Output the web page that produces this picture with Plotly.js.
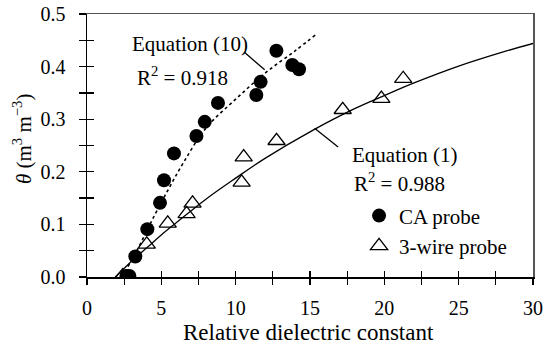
<!DOCTYPE html>
<html>
<head>
<meta charset="utf-8">
<script src="https://cdn.plot.ly/plotly-3.0.1.min.js"></script>
<style>html,body{margin:0;padding:0;background:#fff;}#chart{width:553px;height:344px;}</style>
</head>
<body>
<div id="chart"></div>
<script>
// CA probe measurements (filled circles)
const caX = [2.65, 2.85, 3.25, 4.06, 4.91, 5.18, 5.85, 7.36, 7.92, 8.81, 11.39, 11.68, 12.74, 13.81, 14.26];
const caY = [0.002, 0.002, 0.039, 0.091, 0.141, 0.184, 0.235, 0.268, 0.295, 0.331, 0.346, 0.371, 0.430, 0.403, 0.395];
// 3-wire probe measurements (open triangles)
const wX = [2.4, 4.02, 5.43, 6.7, 7.1, 10.4, 10.54, 12.75, 17.2, 19.8, 21.27];
const wY = [0.002, 0.062, 0.102, 0.12, 0.14, 0.18, 0.228, 0.259, 0.318, 0.339, 0.377];
// Equation (1) curve
const eq1X = [1.9, 3, 4, 5, 6, 8, 10, 12, 15, 18, 20, 22, 25, 28, 30];
const eq1Y = [0.0, 0.030, 0.055, 0.080, 0.103, 0.148, 0.188, 0.226, 0.276, 0.320, 0.345, 0.369, 0.401, 0.428, 0.444];
// Equation (10) curve
const eq10X = [2.35, 3.5, 4.5, 5.5, 6.5, 8, 10, 12, 14, 15.5];
const eq10Y = [0.0, 0.058, 0.115, 0.168, 0.218, 0.283, 0.338, 0.388, 0.43, 0.463];
// Tick labels
const xTickVals = [0, 2.5, 5, 7.5, 10, 12.5, 15, 17.5, 20, 22.5, 25, 27.5, 30];
const xTickText = ['0', '', '5', '', '10', '', '15', '', '20', '', '25', '', '30'];
const yTickVals = [0, 0.05, 0.1, 0.15, 0.2, 0.25, 0.3, 0.35, 0.4, 0.45, 0.5];
const yTickText = ['0.0', '', '0.1', '', '0.2', '', '0.3', '', '0.4', '', '0.5'];

const FONT = 'Liberation Serif';
const txt = {family: FONT, size: 21, color: '#000'};
const traces = [
  {x: eq1X, y: eq1Y, mode: 'lines', line: {color: '#000', width: 1.3, shape: 'spline'}, showlegend: false, hoverinfo: 'skip'},
  {x: eq10X, y: eq10Y, mode: 'lines', line: {color: '#000', width: 1.6, dash: '3px,3px', shape: 'spline'}, showlegend: false, hoverinfo: 'skip'},
  {x: caX, y: caY, mode: 'markers', name: 'CA probe', marker: {symbol: 'circle', size: 14, color: '#000'}},
  {x: wX, y: wY, mode: 'markers', name: '3-wire probe', marker: {symbol: 'triangle-up-open', size: 15, color: '#000', line: {width: 1.3, color: '#000'}}},
  {x: [], y: [], xaxis: 'x2', yaxis: 'y2', showlegend: false},
  {x: [], y: [], xaxis: 'x3', yaxis: 'y3', showlegend: false}
];

const common = {zeroline: false, showgrid: false};
const layout = {
  width: 553, height: 344,
  margin: {l: 87, r: 20, t: 14, b: 67},
  paper_bgcolor: '#fff', plot_bgcolor: '#fff',
  font: {family: FONT, size: 20, color: '#000'},
  xaxis: Object.assign({}, common, {range: [0, 30], tickmode: 'array', tickvals: xTickVals, ticktext: xTickText,
    ticks: 'outside', ticklen: 6, tickwidth: 1.3, tickcolor: '#000', showline: true, linecolor: '#000', linewidth: 1.5,
    ticklabelstandoff: 6, tickfont: {family: FONT, size: 20, color: '#000'}}),
  yaxis: Object.assign({}, common, {range: [0, 0.5], tickmode: 'array', tickvals: yTickVals, ticktext: yTickText,
    ticks: 'outside', ticklen: 7, tickwidth: 1.3, tickcolor: '#000', showline: true, linecolor: '#000', linewidth: 1.5,
    ticklabelstandoff: 9, tickfont: {family: FONT, size: 20, color: '#000'}}),
  xaxis2: Object.assign({}, common, {range: [0, 30], overlaying: 'x', anchor: 'y2', side: 'bottom', tickmode: 'array', tickvals: xTickVals,
    showticklabels: false, ticks: 'inside', ticklen: 6, tickwidth: 1.3, tickcolor: '#000', showline: false}),
  yaxis2: Object.assign({}, common, {range: [0, 0.5], overlaying: 'y', anchor: 'x2', side: 'left', tickmode: 'array', tickvals: yTickVals,
    showticklabels: false, ticks: 'inside', ticklen: 7, tickwidth: 1.3, tickcolor: '#000', showline: false}),
  xaxis3: Object.assign({}, common, {range: [0, 30], overlaying: 'x', anchor: 'y3', side: 'top', showticklabels: false, ticks: '',
    showline: true, linecolor: '#555', linewidth: 1.5}),
  yaxis3: Object.assign({}, common, {range: [0, 0.5], overlaying: 'y', anchor: 'x3', side: 'right', showticklabels: false, ticks: '',
    showline: true, linecolor: '#555', linewidth: 1.5}),
  showlegend: true,
  legend: {x: 0.61, y: 0.31, xanchor: 'left', yanchor: 'top', bgcolor: 'rgba(0,0,0,0)', font: txt, itemwidth: 30, tracegroupgap: 0},
  annotations: [
    {xref: 'x', yref: 'y', x: 2.88, y: 0.443, xanchor: 'left', yanchor: 'middle', text: 'Equation (10)', showarrow: false, font: txt},
    {xref: 'x', yref: 'y', x: 3.2, y: 0.382, xanchor: 'left', yanchor: 'middle', text: 'R<sup>2</sup> = 0.918', showarrow: false, font: txt},
    {xref: 'x', yref: 'y', x: 11.95, y: 0.394, ax: -22, ay: -19, text: '', showarrow: true, arrowhead: 0, arrowwidth: 1.3, arrowcolor: '#000', standoff: 0, startstandoff: 0},
    {xref: 'x', yref: 'y', x: 17.67, y: 0.232, xanchor: 'left', yanchor: 'middle', text: 'Equation (1)', showarrow: false, font: txt},
    {xref: 'x', yref: 'y', x: 17.8, y: 0.18, xanchor: 'left', yanchor: 'middle', text: 'R<sup>2</sup> = 0.988', showarrow: false, font: txt},
    {xref: 'x', yref: 'y', x: 15.31, y: 0.283, ax: 25, ay: 20, text: '', showarrow: true, arrowhead: 0, arrowwidth: 1.3, arrowcolor: '#000', standoff: 0, startstandoff: 0},
    {xref: 'paper', yref: 'paper', x: -0.146, y: 0.524, xanchor: 'center', yanchor: 'middle', textangle: -90,
     text: '<i>θ</i> (m<sup>3</sup> m<sup>−3</sup>)', showarrow: false, font: txt},
    {xref: 'paper', yref: 'paper', x: 0.497, y: -0.212, xanchor: 'center', yanchor: 'middle',
     text: 'Relative dielectric constant', showarrow: false, font: {family: FONT, size: 23, color: '#000'}}
  ]
};

Plotly.newPlot('chart', traces, layout, {staticPlot: true, displayModeBar: false});
</script>
</body>
</html>
